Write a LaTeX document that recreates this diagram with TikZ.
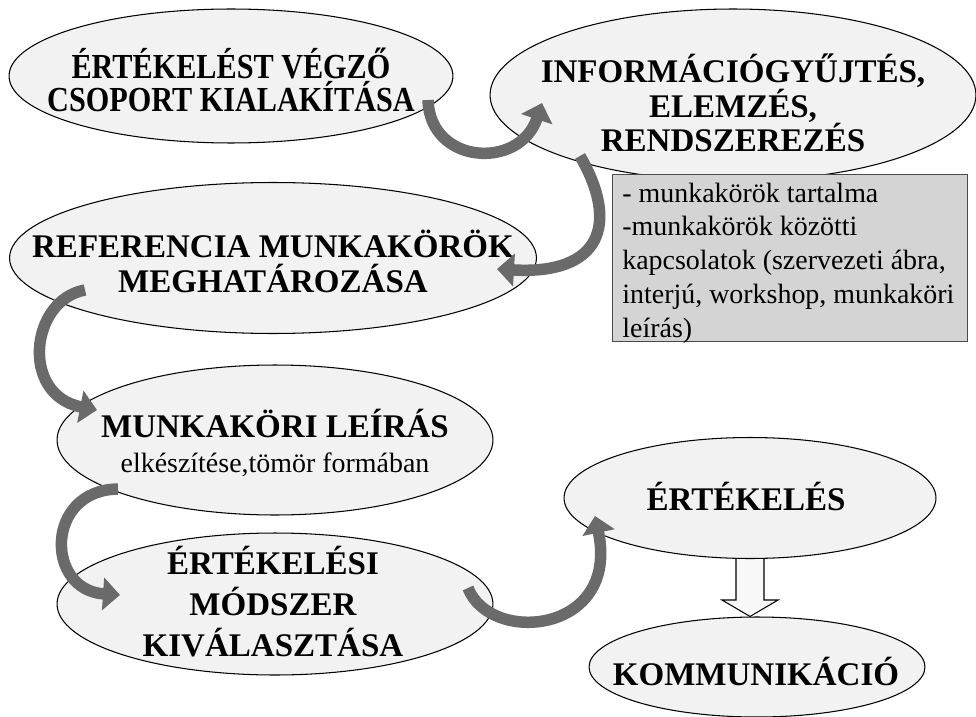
\documentclass[tikz,border=0pt]{standalone}
\usepackage{fontspec}
\usepackage{graphicx}
\setmainfont{Liberation Serif}
\usetikzlibrary{arrows.meta,shapes.geometric,backgrounds}
\definecolor{ovalfill}{HTML}{F2F2F2}
\definecolor{boxfill}{HTML}{D4D4D4}
\definecolor{boxline}{HTML}{4A4A4A}
\definecolor{bendfill}{HTML}{6A6A6A}
\definecolor{blockfill}{HTML}{F8F8F8}
% condensed title line
\newcommand\narrowline[1]{\scalebox{0.86}[1]{#1}}
\begin{document}
\begin{tikzpicture}[x=0.02cm, y=-0.02cm,
  oval/.style={ellipse, draw=black, line width=0.6pt, fill=ovalfill, inner sep=0pt},
  headline/.style={font=\bfseries\fontsize{18.8}{19.9}\selectfont, align=center, inner sep=0pt, anchor=base},
  plaintxt/.style={font=\fontsize{15.9}{19.2}\selectfont, inner sep=0pt},
  infobox/.style={rectangle, draw=boxline, line width=0.8pt, fill=boxfill, inner sep=0pt, anchor=north west},
  flowarrow/.style={draw=bendfill, line width=0.23cm, -{Triangle[width=0.64cm, length=0.34cm]}},
  blockarrow/.style={draw=black, line width=0.6pt, fill=blockfill, line join=miter}
]
\useasboundingbox (0,0) rectangle (976,716);

% stages of the process
\node[oval, minimum width=8.88cm, minimum height=2.68cm] (e1) at (231,76) {};
\node[oval, minimum width=9.72cm, minimum height=3.44cm] (e2) at (733,95) {};
\node[oval, minimum width=10.54cm, minimum height=3.02cm] (e3) at (273,258) {};
\node[oval, minimum width=8.72cm, minimum height=3.00cm] (e4) at (275,440) {};
\node[oval, minimum width=8.72cm, minimum height=2.84cm] (e5) at (275,604) {};
\node[oval, minimum width=7.44cm, minimum height=2.42cm] (e6) at (750,498) {};
\node[oval, minimum width=6.72cm, minimum height=2.00cm] (e7) at (757,667) {};

% stage titles (each node sits on the baseline of its last line)
\node[headline, font=\bfseries\fontsize{20}{19.0}\selectfont] (t1) at (231,112)
  {\narrowline{ÉRTÉKELÉST VÉGZŐ}\\\narrowline{CSOPORT KIALAKÍTÁSA}};
\node[headline] (t2) at (733,152) {INFORMÁCIÓGYŰJTÉS,\\ELEMZÉS,\\RENDSZEREZÉS};
\node[headline] (t3) at (273,292) {REFERENCIA MUNKAKÖRÖK\\MEGHATÁROZÁSA\hspace{0.36cm}};
\node[headline] (t4) at (275,437) {MUNKAKÖRI LEÍRÁS};
\node[plaintxt, anchor=base] (t4b) at (275,472) {elkészítése,tömör formában};
\node[headline, font=\bfseries\fontsize{18.8}{23.3}\selectfont] (t5) at (273,656) {ÉRTÉKELÉSI\\MÓDSZER\\KIVÁLASZTÁSA};
\node[headline] (t6) at (746,510) {ÉRTÉKELÉS};
\node[headline] (t7) at (756,685) {KOMMUNIKÁCIÓ};

% information sources
\node[infobox, minimum width=7.10cm, minimum height=3.34cm] (box) at (612,174) {};
\node[plaintxt, align=left, anchor=base west] (boxt) at (622,337)
  {- munkakörök tartalma\\-munkakörök közötti\\kapcsolatok (szervezeti ábra,\\interjú, workshop, munkaköri\\leírás)};

% curved flow arrows
\draw[flowarrow] ([shift={(197,24)}]e1.center) .. controls +(2,65) and +(-22,67) .. ([shift={(-191,8)}]e2.center);
\draw[flowarrow] ([shift={(-153,61)}]e2.center) .. controls +(40,69) and +(103,6) .. ([shift={(224,11)}]e3.center);
\draw[flowarrow] ([shift={(-188,32)}]e3.center) .. controls +(-55,10) and +(-77,-15) .. ([shift={(-178,-30)}]e4.center);
\draw[flowarrow] ([shift={(-157,49)}]e4.center) .. controls +(-73,1) and +(-75,-5) .. ([shift={(-155,-9)}]e5.center);
\draw[flowarrow] ([shift={(193,-16)}]e5.center) .. controls +(22,57) and +(25,118) .. ([shift={(-155,18)}]e6.center);

% block arrow and page background
\begin{scope}[on background layer]
  \fill[white] (0,0) rectangle (976,716);
  \draw[blockarrow] ([shift={(-14,-6)}]e6.south) -- ([shift={(-14,41)}]e6.south)
    -- ([shift={(-28,41)}]e6.south) -- (e6.south |- e7.north)
    -- ([shift={(28,41)}]e6.south) -- ([shift={(14,41)}]e6.south)
    -- ([shift={(14,-6)}]e6.south) -- cycle;
\end{scope}
\end{tikzpicture}
\end{document}
